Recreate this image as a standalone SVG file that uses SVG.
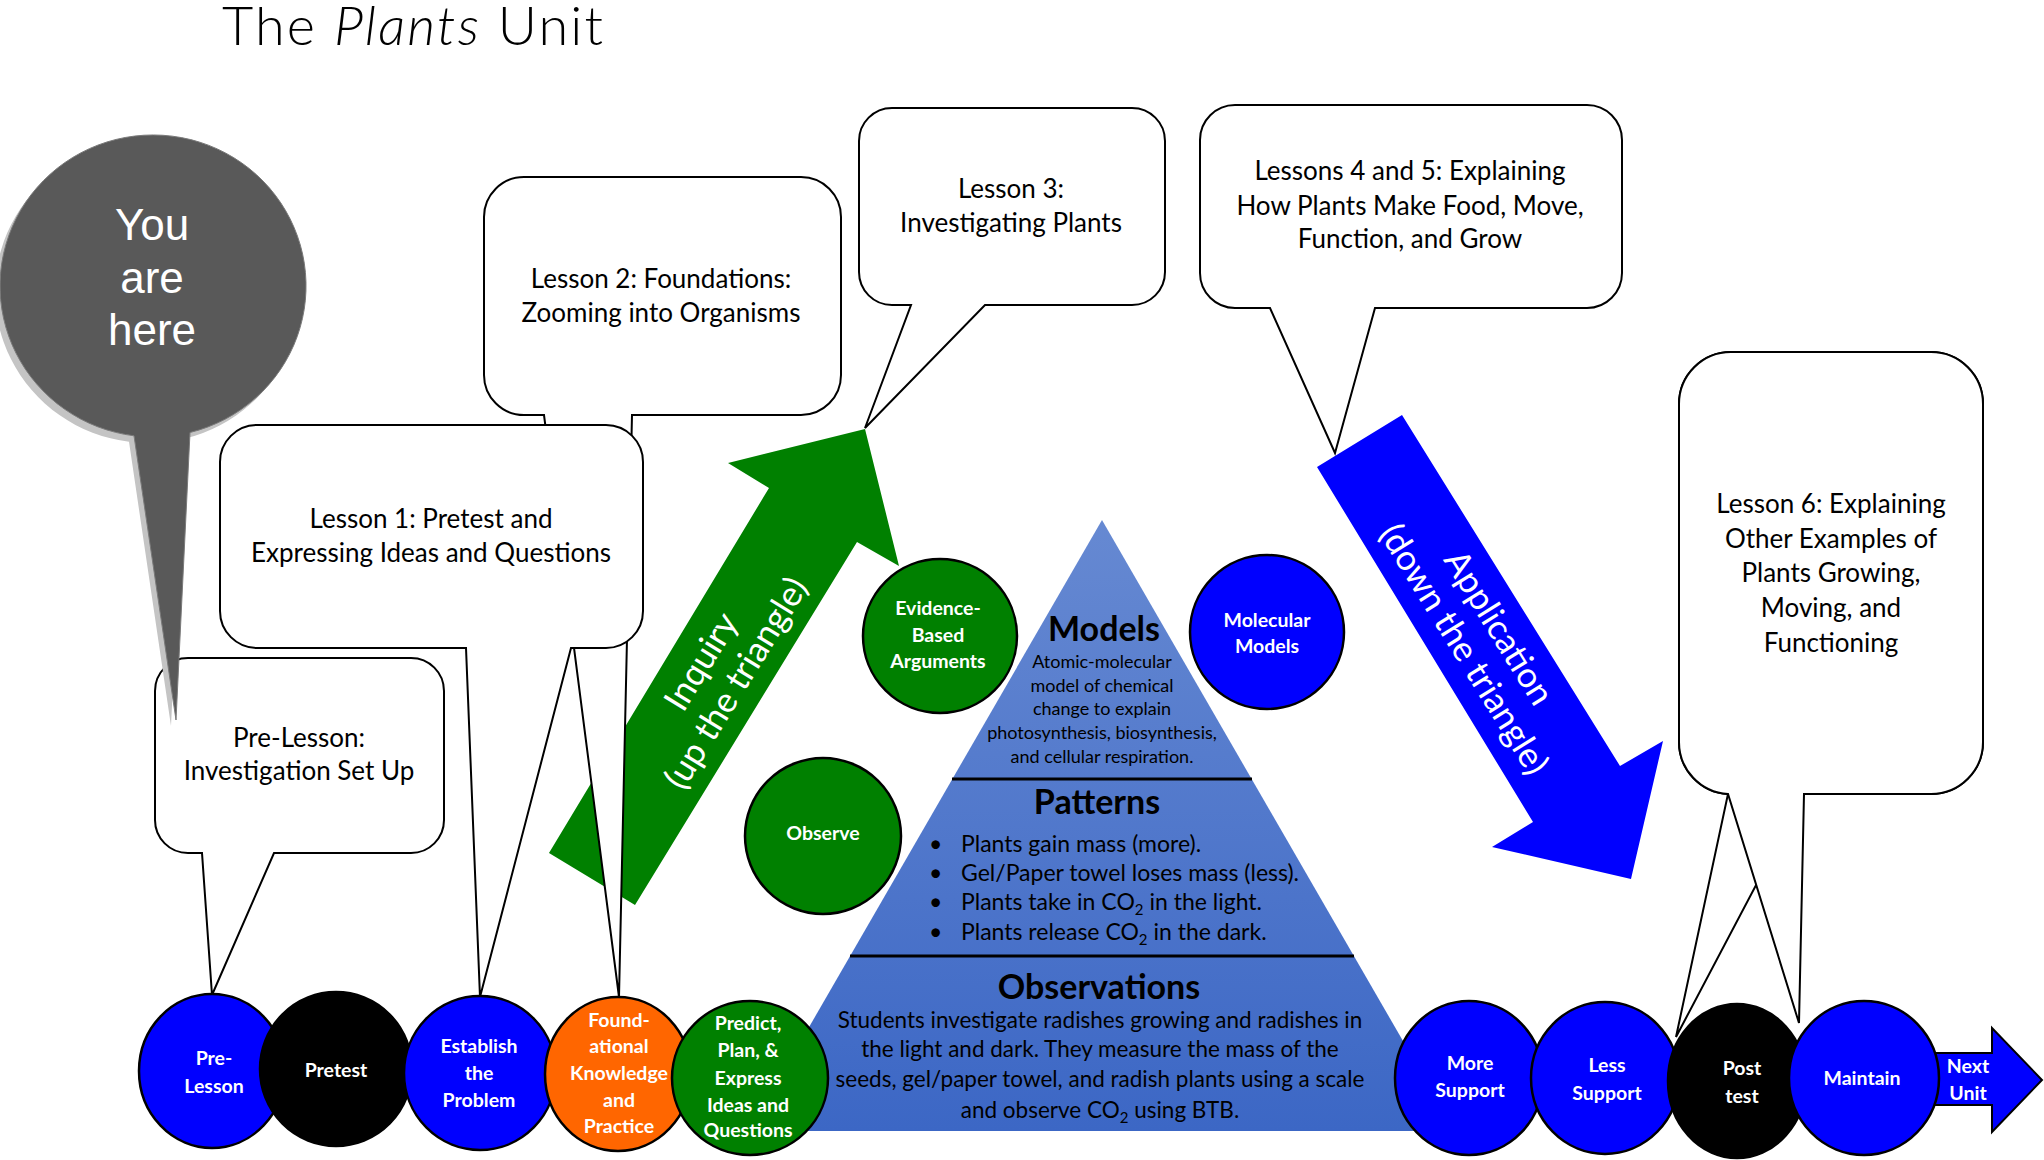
<svg xmlns="http://www.w3.org/2000/svg" width="2044" height="1160" viewBox="0 0 2044 1160">
<defs>
<linearGradient id="pyr" x1="0" y1="0" x2="0" y2="1">
<stop offset="0" stop-color="#6689D2"/>
<stop offset="1" stop-color="#3C67C5"/>
</linearGradient>
<style>
.box{fill:#fff;stroke:#000;stroke-width:2}
.bt{font-family:Lato,"Open Sans",sans-serif;font-size:26px;fill:#000;text-anchor:middle}
.ct{font-family:Lato,"Open Sans",sans-serif;font-size:19.5px;font-weight:bold;fill:#fff;text-anchor:middle}
.circ{stroke:#000;stroke-width:2.5}
.blue{fill:#0000FF}
.green{fill:#008000}
.black{fill:#000}
.orange{fill:#FF6600}
.ph{font-family:Lato,"Open Sans",sans-serif;font-size:34px;font-weight:bold;fill:#000;text-anchor:middle}
.pb{font-family:Lato,"Open Sans",sans-serif;font-size:23px;fill:#000}
.po{font-family:Lato,"Open Sans",sans-serif;font-size:22.5px;fill:#000;text-anchor:middle}
.pm{font-family:Lato,"Open Sans",sans-serif;font-size:18px;fill:#000;text-anchor:middle}
.at{font-family:Lato,"Open Sans",sans-serif;font-size:35px;fill:#fff;text-anchor:middle}
.div{stroke:#000;stroke-width:3}
</style>
</defs>
<rect width="2044" height="1160" fill="#fff"/>

<g id="title">
<text x="222" y="45" font-family="Lato,'Open Sans',sans-serif" font-weight="300" font-size="54" fill="#000" textLength="381" lengthAdjust="spacing">The <tspan font-style="italic">Plants</tspan> Unit</text>
</g>

<g id="pyramid">
<polygon points="1102,520 1455,1131 749,1131" fill="url(#pyr)"/>
<line class="div" x1="952" y1="779" x2="1252" y2="779"/>
<line class="div" x1="850" y1="956" x2="1354" y2="956"/>
<text class="ph" x="1104" y="641">Models</text>
<text class="pm" x="1102" y="668">Atomic-molecular</text>
<text class="pm" x="1102" y="692">model of chemical</text>
<text class="pm" x="1102" y="715">change to explain</text>
<text class="pm" x="1102" y="739">photosynthesis, biosynthesis,</text>
<text class="pm" x="1102" y="763">and cellular respiration.</text>
<text class="ph" x="1097" y="814">Patterns</text>
<text class="pb" x="929" y="852">•</text><text class="pb" x="961" y="852">Plants gain mass (more).</text>
<text class="pb" x="929" y="881">•</text><text class="pb" x="961" y="881">Gel/Paper towel loses mass (less).</text>
<text class="pb" x="929" y="910">•</text><text class="pb" x="961" y="910">Plants take in CO<tspan font-size="15" dy="5">2</tspan><tspan dy="-5"> in the light.</tspan></text>
<text class="pb" x="929" y="940">•</text><text class="pb" x="961" y="940">Plants release CO<tspan font-size="15" dy="5">2</tspan><tspan dy="-5"> in the dark.</tspan></text>
<text class="ph" x="1099" y="999">Observations</text>
<text class="po" x="1100" y="1028">Students investigate radishes growing and radishes in</text>
<text class="po" x="1100" y="1057">the light and dark. They measure the mass of the</text>
<text class="po" x="1100" y="1087">seeds, gel/paper towel, and radish plants using a scale</text>
<text class="po" x="1100" y="1118">and observe CO<tspan font-size="15" dy="5">2</tspan><tspan dy="-5"> using BTB.</tspan></text>
</g>

<g id="connectors">
<g id="inquiry-arrow">
<polygon points="865,429 899,566 857,542 635,905 549,853 769,488 728,463" fill="#008000"/>
<g transform="translate(718,672) rotate(-58.5)">
<text class="at" x="0" y="-8">Inquiry</text>
<text class="at" x="0" y="33">(up the triangle)</text>
</g>
</g>
<g id="application-arrow">
<polygon points="1402,415 1620,766 1663,741 1631,879 1492,847 1533,822 1317,467" fill="#0000FF"/>
<g transform="translate(1482,638) rotate(58.2)">
<text class="at" x="0" y="-8">Application</text>
<text class="at" x="0" y="33">(down the triangle)</text>
</g>
</g>
</g>

<g id="lesson2">
<path class="box" d="M524,177 H801 A40,40 0 0 1 841,217 V375 A40,40 0 0 1 801,415 H632 L619,997 L544,415 H524 A40,40 0 0 1 484,375 V217 A40,40 0 0 1 524,177 Z"/>
<text class="bt" x="661" y="288">Lesson 2: Foundations:</text>
<text class="bt" x="661" y="322">Zooming into Organisms</text>
</g>

<g id="lesson1">
<path class="box" d="M257,425 H606 A37,37 0 0 1 643,462 V611 A37,37 0 0 1 606,648 H571 L480,997 L466,648 H257 A37,37 0 0 1 220,611 V462 A37,37 0 0 1 257,425 Z"/>
<text class="bt" x="431" y="528">Lesson 1: Pretest and</text>
<text class="bt" x="431" y="562">Expressing Ideas and Questions</text>
</g>

<g id="prelesson">
<path class="box" d="M188,658 H411 A33,33 0 0 1 444,691 V820 A33,33 0 0 1 411,853 H274 L212,995 L202,853 H188 A33,33 0 0 1 155,820 V691 A33,33 0 0 1 188,658 Z"/>
<text class="bt" x="299" y="747">Pre-Lesson:</text>
<text class="bt" x="299" y="780">Investigation Set Up</text>
</g>

<g id="you-are-here">
<path d="M134,435.8 A153,151 0 1 1 190,432.5 L176,720 Z" fill="#c4c4c4" transform="translate(-5,6)"/>
<path d="M134,435.8 A153,151 0 1 1 190,432.5 L176,720 Z" fill="#595959" stroke="#7a7a7a" stroke-width="1"/>
<text x="152" y="240" font-family="'Liberation Sans',Arial,sans-serif" font-size="44" fill="#fff" text-anchor="middle">You</text>
<text x="152" y="293" font-family="'Liberation Sans',Arial,sans-serif" font-size="44" fill="#fff" text-anchor="middle">are</text>
<text x="152" y="345" font-family="'Liberation Sans',Arial,sans-serif" font-size="44" fill="#fff" text-anchor="middle">here</text>
</g>

<g id="lesson3">
<path class="box" d="M892,108 H1132 A33,33 0 0 1 1165,141 V272 A33,33 0 0 1 1132,305 H985 L865,428 L911,305 H892 A33,33 0 0 1 859,272 V141 A33,33 0 0 1 892,108 Z"/>
<text class="bt" x="1011" y="198">Lesson 3:</text>
<text class="bt" x="1011" y="232">Investigating Plants</text>
</g>

<g id="lesson45">
<path class="box" d="M1235,105 H1587 A35,35 0 0 1 1622,140 V273 A35,35 0 0 1 1587,308 H1375 L1335,453 L1270,308 H1235 A35,35 0 0 1 1200,273 V140 A35,35 0 0 1 1235,105 Z"/>
<text class="bt" x="1410" y="180">Lessons 4 and 5: Explaining</text>
<text class="bt" x="1410" y="215">How Plants Make Food, Move,</text>
<text class="bt" x="1410" y="248">Function, and Grow</text>
</g>

<g id="lesson6">
<path class="box" d="M1731,352 H1931 A52,52 0 0 1 1983,404 V742 A52,52 0 0 1 1931,794 H1804 L1676,1037 L1728,794 A52,52 0 0 1 1679,742 V404 A52,52 0 0 1 1731,352 Z"/>
<path class="box" d="M1731,352 H1931 A52,52 0 0 1 1983,404 V742 A52,52 0 0 1 1931,794 H1804 L1799,1023 L1728,794 A52,52 0 0 1 1679,742 V404 A52,52 0 0 1 1731,352 Z"/>
<text class="bt" x="1831" y="513">Lesson 6: Explaining</text>
<text class="bt" x="1831" y="548">Other Examples of</text>
<text class="bt" x="1831" y="582">Plants Growing,</text>
<text class="bt" x="1831" y="617">Moving, and</text>
<text class="bt" x="1831" y="652">Functioning</text>
</g>

<g id="evidence">
<circle class="circ green" cx="940" cy="636" r="77"/>
<text class="ct" x="938" y="615">Evidence-</text>
<text class="ct" x="938" y="642">Based</text>
<text class="ct" x="938" y="668">Arguments</text>
</g>
<g id="observe">
<circle class="circ green" cx="823" cy="836" r="78"/>
<text class="ct" x="823" y="840">Observe</text>
</g>
<g id="molecular">
<circle class="circ blue" cx="1267" cy="632" r="77"/>
<text class="ct" x="1267" y="627">Molecular</text>
<text class="ct" x="1267" y="653">Models</text>
</g>

<g id="pre-lesson-node">
<ellipse class="circ blue" cx="212" cy="1071" rx="73" ry="77"/>
<text class="ct" x="214" y="1065">Pre-</text>
<text class="ct" x="214" y="1093">Lesson</text>
</g>
<g id="pretest">
<ellipse class="circ black" cx="336" cy="1069" rx="76" ry="77"/>
<text class="ct" x="336" y="1077">Pretest</text>
</g>
<g id="establish">
<ellipse class="circ blue" cx="480" cy="1073" rx="76" ry="77"/>
<text class="ct" x="479" y="1053">Establish</text>
<text class="ct" x="479" y="1080">the</text>
<text class="ct" x="479" y="1107">Problem</text>
</g>
<g id="foundational">
<ellipse class="circ orange" cx="618" cy="1074" rx="73" ry="77"/>
<text class="ct" x="619" y="1027">Found-</text>
<text class="ct" x="619" y="1053">ational</text>
<text class="ct" x="619" y="1080">Knowledge</text>
<text class="ct" x="619" y="1107">and</text>
<text class="ct" x="619" y="1133">Practice</text>
</g>
<g id="predict">
<ellipse class="circ green" cx="750" cy="1078" rx="78" ry="77"/>
<text class="ct" x="748" y="1030">Predict,</text>
<text class="ct" x="748" y="1057">Plan, &amp;</text>
<text class="ct" x="748" y="1085">Express</text>
<text class="ct" x="748" y="1112">Ideas and</text>
<text class="ct" x="748" y="1137">Questions</text>
</g>
<g id="more-support">
<ellipse class="circ blue" cx="1469" cy="1078" rx="74" ry="77"/>
<text class="ct" x="1470" y="1070">More</text>
<text class="ct" x="1470" y="1097">Support</text>
</g>
<g id="less-support">
<ellipse class="circ blue" cx="1605" cy="1078" rx="74" ry="76"/>
<text class="ct" x="1607" y="1072">Less</text>
<text class="ct" x="1607" y="1100">Support</text>
</g>
<g id="posttest">
<ellipse class="circ black" cx="1737" cy="1081" rx="69" ry="77"/>
<text class="ct" x="1742" y="1075">Post</text>
<text class="ct" x="1742" y="1103">test</text>
</g>
<g id="next-unit">
<polygon points="1930,1053 1992,1053 1992,1028 2042,1080 1992,1132 1992,1105 1930,1105" fill="#0000FF" stroke="#000" stroke-width="2"/>
<text class="ct" x="1968" y="1073">Next</text>
<text class="ct" x="1968" y="1100">Unit</text>
</g>
<g id="maintain">
<ellipse class="circ blue" cx="1864" cy="1078" rx="75" ry="77"/>
<text class="ct" x="1862" y="1085">Maintain</text>
</g>
</svg>
